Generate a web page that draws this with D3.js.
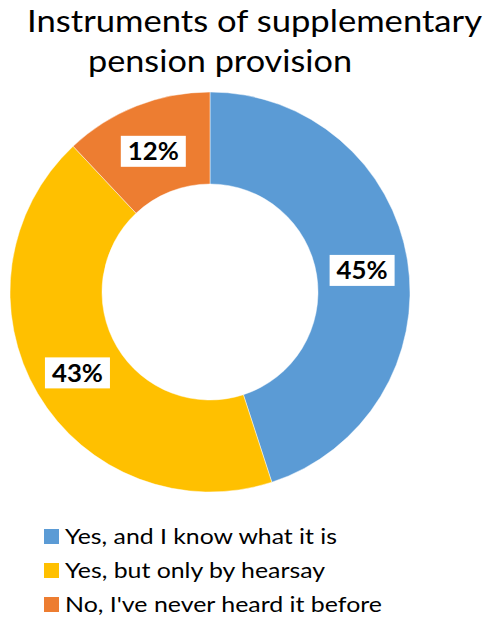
<!DOCTYPE html>
<html>
<head>
<meta charset="utf-8">
<script src="https://cdn.jsdelivr.net/npm/d3@7"></script>
<style>
  html, body { margin: 0; padding: 0; background: #fff; }
  svg { display: block; }
  text { font-family: Lato, "Open Sans", "Liberation Sans", sans-serif; }
</style>
</head>
<body>
<svg id="chart" width="497" height="619"></svg>
<script>
// Survey answers and their shares (percent)
const categories = [
  "Yes, and I know what it is",
  "Yes, but only by hearsay",
  "No, I've never heard it before"
];
const values = [45, 43, 12];
const colors = ["#5B9BD5", "#FFC000", "#ED7D31"];
const titleLines = ["Instruments of supplementary", "pension provision"];

const svg = d3.select("#chart");

// Squeeze a text element horizontally to a target width, keeping its font size
function fitWidth(sel, target) {
  sel.attr("textLength", target).attr("lengthAdjust", "spacingAndGlyphs");
}

// Title (two lines)
const t1 = svg.append("text")
  .attr("x", 254.5).attr("y", 32)
  .attr("text-anchor", "middle")
  .attr("font-size", 31).attr("fill", "#000")
  .text(titleLines[0]);
fitWidth(t1, 455);
const t2 = svg.append("text")
  .attr("x", 220).attr("y", 72)
  .attr("text-anchor", "middle")
  .attr("font-size", 31).attr("fill", "#000")
  .text(titleLines[1]);
fitWidth(t2, 264);

// Donut
const cx = 210, cy = 292, outerR = 200, innerR = 108;
const pie = d3.pie().sort(null).value(d => d);
const arcs = pie(values);
const arc = d3.arc().innerRadius(innerR).outerRadius(outerR);

const g = svg.append("g").attr("transform", `translate(${cx},${cy})`);
g.selectAll("path.slice")
  .data(arcs)
  .enter().append("path")
  .attr("class", "slice")
  .attr("d", arc)
  .attr("fill", (d, i) => colors[i])
  .attr("stroke", "#fff")
  .attr("stroke-opacity", 0.6)
  .attr("stroke-width", 0.75);

// Value labels in white boxes at the ring centroid
const lbl = g.selectAll("g.lbl")
  .data(arcs)
  .enter().append("g")
  .attr("class", "lbl")
  .attr("transform", d => {
    const c = arc.centroid(d);
    return `translate(${c[0]},${c[1] + 2.5})`;
  });
lbl.append("rect")
  .attr("x", -32.5).attr("y", -15.5)
  .attr("width", 65).attr("height", 31)
  .attr("fill", "#fff");
lbl.append("text")
  .attr("text-anchor", "middle")
  .attr("y", 9)
  .attr("font-size", 25)
  .attr("font-weight", "bold")
  .attr("fill", "#000")
  .text(d => d.data + "%")
  .each(function () { fitWidth(d3.select(this), 51); });

// Legend
const legendWidths = [272, 260, 317];
const rows = svg.append("g").selectAll("g")
  .data(categories)
  .enter().append("g")
  .attr("transform", (d, i) => `translate(44,${544 + i * 34})`);
rows.append("rect")
  .attr("x", 0).attr("y", -15)
  .attr("width", 15).attr("height", 15)
  .attr("fill", (d, i) => colors[i]);
rows.append("text")
  .attr("x", 21).attr("y", 0)
  .attr("font-size", 21.5).attr("fill", "#000")
  .text(d => d)
  .each(function (d, i) { fitWidth(d3.select(this), legendWidths[i]); });
</script>
</body>
</html>
